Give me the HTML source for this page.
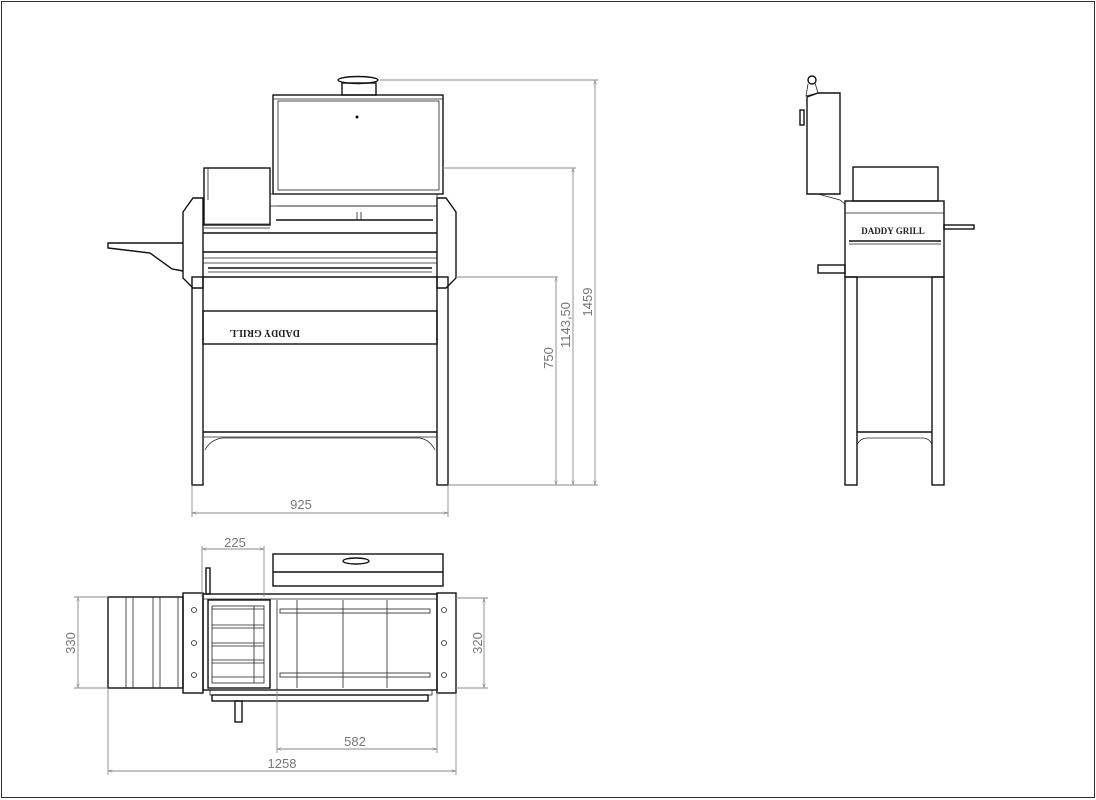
<!DOCTYPE html>
<html><head><meta charset="utf-8"><style>
html,body{margin:0;padding:0;background:#fff;}
svg{display:block;}
text{font-family:"Liberation Sans",sans-serif;fill:#777;font-size:13px;}
.k{stroke:#111;stroke-width:1.4;fill:none;}
.t{stroke:#222;stroke-width:0.8;fill:none;}
.d{stroke:#8a8a8a;stroke-width:0.9;fill:none;}
</style></head><body>
<svg width="1096" height="800" viewBox="0 0 1096 800" xmlns="http://www.w3.org/2000/svg">
<defs>
<marker id="a" viewBox="0 0 10 10" refX="10" refY="5" markerWidth="7" markerHeight="5" orient="auto-start-reverse"><path d="M0,2 L10,5 L0,8" fill="none" stroke="#888" stroke-width="1"/></marker>
</defs>
<rect x="1.5" y="1.5" width="1093" height="796" fill="none" stroke="#333" stroke-width="1"/>

<!-- FRONT VIEW -->
<g>
<ellipse cx="358" cy="80" rx="20" ry="3.5" class="k" fill="#222"/>
<rect x="342" y="83" width="34" height="12" class="k"/>
<rect x="273" y="95" width="170" height="99" class="k"/>
<rect x="278" y="101" width="161" height="89" class="t"/>
<line x1="273" y1="99" x2="443" y2="99" class="t"/>
<circle cx="357" cy="117" r="1.5" fill="#111"/>
<rect x="204" y="168" width="66" height="57" class="k"/>
<line x1="208" y1="168" x2="208" y2="200" class="t"/>
<!-- side panels -->
<path d="M183,212 L193,198 L203,198 L203,288 L193,288 L183,278 Z" class="k"/>
<path d="M456,212 L446,198 L437,198 L437,288 L446,288 L456,278 Z" class="k"/>
<rect x="270" y="194" width="167" height="12" class="t"/>
<line x1="278" y1="206" x2="437" y2="206" class="t"/>
<line x1="276" y1="220" x2="433" y2="220" class="k"/>
<line x1="204" y1="224" x2="270" y2="224" class="t"/>
<line x1="204" y1="228" x2="270" y2="228" class="t"/>
<line x1="203" y1="233" x2="437" y2="233" class="k"/>
<line x1="203" y1="252" x2="437" y2="252" class="k"/>
<line x1="203" y1="258" x2="437" y2="258" class="t"/>
<line x1="203" y1="263" x2="437" y2="263" class="t"/>
<line x1="208" y1="268" x2="432" y2="268" class="k"/>
<line x1="208" y1="272" x2="432" y2="272" class="t"/>
<line x1="203" y1="277" x2="437" y2="277" class="k"/>
<line x1="357" y1="212" x2="357" y2="220" class="t"/><line x1="361" y1="212" x2="361" y2="220" class="t"/>
<!-- shelf -->
<path d="M183,243 L108,243 L108,248 L150,253 L172,269 L183,271" class="k"/>
<!-- legs -->
<rect x="192" y="277" width="11" height="208" class="k"/>
<rect x="437" y="277" width="11" height="208" class="k"/>
<rect x="203" y="311" width="234" height="33" class="k"/>
<text x="300" y="334" style="font-size:10px;fill:#222;font-family:'Liberation Serif',serif;font-weight:bold" transform="scale(-1,-1) translate(-600,-664)">DADDY GRILL</text>
<line x1="203" y1="432" x2="437" y2="432" class="k"/>
<path d="M203,437 L437,437" class="t"/>
<path d="M205,450 Q210,440 222,438 L420,438 Q430,440 435,450" class="t"/>
<!-- dims -->
<line x1="380" y1="80" x2="598" y2="80" class="d"/>
<line x1="443" y1="168" x2="576" y2="168" class="d"/>
<line x1="456" y1="277" x2="558" y2="277" class="d"/>
<line x1="448" y1="485" x2="598" y2="485" class="d"/>
<line x1="595" y1="80" x2="595" y2="485" class="d" marker-start="url(#a)" marker-end="url(#a)"/>
<line x1="573" y1="168" x2="573" y2="485" class="d" marker-start="url(#a)" marker-end="url(#a)"/>
<line x1="556" y1="277" x2="556" y2="485" class="d" marker-start="url(#a)" marker-end="url(#a)"/>
<text transform="translate(592,302) rotate(-90)" text-anchor="middle">1459</text>
<text transform="translate(570,325) rotate(-90)" text-anchor="middle">1143,50</text>
<text transform="translate(553,358) rotate(-90)" text-anchor="middle">750</text>
<line x1="192" y1="485" x2="192" y2="517" class="d"/>
<line x1="448" y1="485" x2="448" y2="517" class="d"/>
<line x1="192" y1="513" x2="448" y2="513" class="d" marker-start="url(#a)" marker-end="url(#a)"/>
<text x="301" y="509" text-anchor="middle">925</text>
</g>

<!-- SIDE VIEW -->
<g>
<circle cx="812" cy="80" r="4" class="k"/>
<path d="M808,84 L806,96 L818,93 L815,83" class="t"/>
<path d="M807,97 L818,93 L840,93 L840,194 L807,194 Z" class="k"/>
<rect x="800" y="110" width="4" height="15" class="k"/>
<path d="M818,194 L840,200 L845,204" class="t"/>
<rect x="853" y="167" width="85" height="34" class="k"/>
<rect x="845" y="201" width="99" height="76" class="k"/>
<line x1="845" y1="213" x2="944" y2="213" class="t"/>
<line x1="849" y1="241" x2="941" y2="241" class="k"/>
<line x1="849" y1="244" x2="941" y2="244" class="t"/>
<text x="893" y="234" text-anchor="middle" style="font-size:9px;fill:#222;font-family:'Liberation Serif',serif;font-weight:bold">DADDY GRILL</text>
<rect x="944" y="225" width="30" height="4" class="k"/>
<rect x="818" y="265" width="27" height="8" class="k"/>
<rect x="845" y="277" width="12" height="208" class="k"/>
<rect x="932" y="277" width="12" height="208" class="k"/>
<line x1="857" y1="432" x2="932" y2="432" class="k"/>
<path d="M857,445 Q860,438 868,438 L922,438 Q930,438 932,445" class="t"/>
</g>

<!-- TOP VIEW -->
<g>
<rect x="273" y="554" width="170" height="32" class="k"/>
<line x1="273" y1="572" x2="443" y2="572" class="k"/>
<ellipse cx="356" cy="561" rx="13" ry="3" class="k" fill="#333"/>
<rect x="206" y="568" width="4" height="26" class="k"/>
<rect x="108" y="597" width="75" height="91" class="k"/>
<line x1="126" y1="597" x2="126" y2="688" class="t"/><line x1="133" y1="597" x2="133" y2="688" class="t"/>
<line x1="153" y1="597" x2="153" y2="688" class="t"/><line x1="160" y1="597" x2="160" y2="688" class="t"/>
<line x1="178" y1="597" x2="178" y2="688" class="t"/>
<rect x="183" y="593" width="20" height="100" class="k"/>
<rect x="437" y="593" width="19" height="100" class="k"/>
<circle cx="194" cy="610" r="2.5" class="t"/><circle cx="194" cy="643" r="2.5" class="t"/><circle cx="194" cy="675" r="2.5" class="t"/>
<circle cx="444" cy="610" r="2.5" class="t"/><circle cx="444" cy="643" r="2.5" class="t"/><circle cx="444" cy="675" r="2.5" class="t"/>
<rect x="203" y="594" width="234" height="96" class="k"/>
<line x1="203" y1="599" x2="437" y2="599" class="t"/>
<rect x="208" y="600" width="62" height="88" class="k"/>
<rect x="212" y="606" width="52" height="77" class="t"/>
<line x1="212" y1="609" x2="264" y2="609" class="t"/><line x1="212" y1="625" x2="264" y2="625" class="t"/>
<line x1="212" y1="628" x2="264" y2="628" class="t"/><line x1="212" y1="643" x2="264" y2="643" class="t"/>
<line x1="212" y1="646" x2="264" y2="646" class="t"/><line x1="212" y1="660" x2="264" y2="660" class="t"/>
<line x1="212" y1="663" x2="264" y2="663" class="t"/><line x1="212" y1="677" x2="264" y2="677" class="t"/>
<line x1="254" y1="606" x2="254" y2="683" class="t"/>
<rect x="280" y="609" width="150" height="4" class="t"/>
<rect x="280" y="673" width="150" height="4" class="t"/>
<line x1="297" y1="600" x2="297" y2="688" class="t"/>
<line x1="343" y1="600" x2="343" y2="688" class="t"/>
<line x1="387" y1="600" x2="387" y2="688" class="t"/>
<line x1="277" y1="600" x2="277" y2="690" class="t"/>
<rect x="210" y="690" width="222" height="5" class="t"/>
<rect x="212" y="695" width="216" height="6" class="k"/>
<rect x="235" y="701" width="7" height="21" class="k"/>
<!-- dims -->
<line x1="202" y1="546" x2="202" y2="597" class="d"/>
<line x1="264" y1="546" x2="264" y2="597" class="d"/>
<line x1="202" y1="549" x2="264" y2="549" class="d" marker-start="url(#a)" marker-end="url(#a)"/>
<text x="235" y="547" text-anchor="middle">225</text>
<line x1="74" y1="597" x2="108" y2="597" class="d"/>
<line x1="74" y1="688" x2="108" y2="688" class="d"/>
<line x1="78" y1="597" x2="78" y2="688" class="d" marker-start="url(#a)" marker-end="url(#a)"/>
<text transform="translate(75,643) rotate(-90)" text-anchor="middle">330</text>
<line x1="456" y1="598" x2="488" y2="598" class="d"/>
<line x1="456" y1="688" x2="488" y2="688" class="d"/>
<line x1="484" y1="598" x2="484" y2="688" class="d" marker-start="url(#a)" marker-end="url(#a)"/>
<text transform="translate(482,643) rotate(-90)" text-anchor="middle">320</text>
<line x1="277" y1="690" x2="277" y2="753" class="d"/>
<line x1="437" y1="693" x2="437" y2="753" class="d"/>
<line x1="277" y1="749" x2="437" y2="749" class="d" marker-start="url(#a)" marker-end="url(#a)"/>
<text x="355" y="746" text-anchor="middle">582</text>
<line x1="108" y1="688" x2="108" y2="775" class="d"/>
<line x1="456" y1="693" x2="456" y2="775" class="d"/>
<line x1="108" y1="771" x2="456" y2="771" class="d" marker-start="url(#a)" marker-end="url(#a)"/>
<text x="282" y="768" text-anchor="middle">1258</text>
</g>
</svg>
</body></html>
